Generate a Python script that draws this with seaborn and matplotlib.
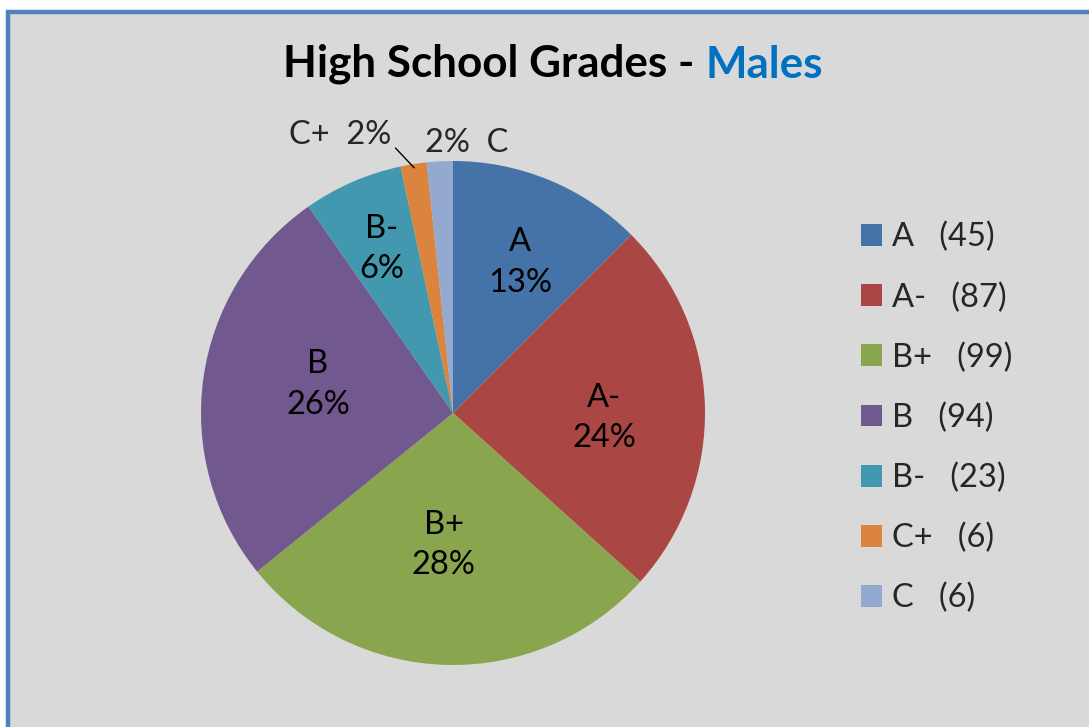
import numpy as np
import matplotlib
matplotlib.use('Agg')
import matplotlib.pyplot as plt
from matplotlib.patches import Rectangle
import seaborn as sns

grades = ['A', 'A-', 'B+', 'B', 'B-', 'C+', 'C']
counts = [45, 87, 99, 94, 23, 6, 6]
legend_labels = ['A   (45)', 'A-   (87)', 'B+   (99)', 'B   (94)', 'B-   (23)', 'C+   (6)', 'C   (6)']
colors = ['#4572A7', '#AA4643', '#89A54E', '#71588F', '#4198AF', '#DB843D', '#93A9CF']

sns.set_theme(style='white')
plt.rcParams['font.family'] = ['Lato', 'DejaVu Sans']

W, H = 1089, 727
fig = plt.figure(figsize=(W / 100, H / 100), dpi=100)
fig.patch.set_facecolor('white')

# grey chart area with blue frame (top / left visible)
bg = Rectangle((7.5 / W, -0.1), 1.2, 1.1 - 11.5 / H, transform=fig.transFigure,
               facecolor='#D9D9D9', edgecolor='#4F81BD', lw=3.2, zorder=-10)
fig.patches.append(bg)

# pie axes: center (453, 413) px, radius 252 px
cx, cy, r = 453, 413, 252
ax = fig.add_axes([(cx - r) / W, (H - cy - r) / H, 2 * r / W, 2 * r / H])
ax.set_facecolor('none')
pal = sns.color_palette(colors)
wedges, _ = ax.pie(counts, colors=pal, startangle=90, counterclock=False,
                   radius=1, wedgeprops=dict(linewidth=0))
ax.set_xlim(-1, 1)
ax.set_ylim(-1, 1)
ax.axis('off')

total = sum(counts)
pcts = [int(c / total * 100 + 0.5) for c in counts]
fs = 23.5
dists = [0.655, 0.60, 0.525, 0.548, 0.71]
shift = [-1.5, -3.4, -2.5, -4, 0]   # small angular nudges (deg)
for i in range(5):
    w = wedges[i]
    ang = np.deg2rad((w.theta1 + w.theta2) / 2 + shift[i])
    ax.text(dists[i] * np.cos(ang), dists[i] * np.sin(ang),
            f'{grades[i]}\n{pcts[i]}%', ha='center', va='center',
            fontsize=fs, linespacing=1.45, color='black')

# small slices labelled outside
w = wedges[5]
ang = np.deg2rad((w.theta1 + w.theta2) / 2)
ax.annotate(f'{grades[5]}  {pcts[5]}%', xy=(0.985 * np.cos(ang), 0.985 * np.sin(ang)),
            xytext=(-0.245, 1.105), ha='right', va='center', fontsize=fs,
            arrowprops=dict(arrowstyle='-', color='black', lw=1,
                            shrinkA=1, shrinkB=0, relpos=(1.0, 0.2)),
            annotation_clip=False)
ax.text(-0.11, 1.07, f'{pcts[6]}%  {grades[6]}', ha='left', va='center',
        fontsize=fs, clip_on=False)

# legend
fig.legend(wedges, legend_labels, loc='upper left',
           bbox_to_anchor=(848 / W, 1 - 209 / H), frameon=False,
           fontsize=fs, handlelength=0.65, handleheight=0.65,
           handletextpad=0.3, labelspacing=0.91, borderaxespad=0)

# two-colour title
t1 = fig.text(283 / W, 1 - 77 / H, 'High School Grades - ', fontsize=31.7,
              fontweight='bold', ha='left', va='baseline', color='black')
plt.annotate('Males', xy=(1, 0), xycoords=t1, ha='left', va='bottom',
             fontsize=31.7, fontweight='bold', color='#0070C0')

fig.savefig('out.png', dpi=100)
